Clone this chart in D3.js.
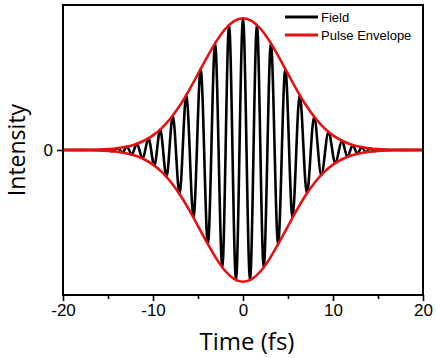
<!DOCTYPE html>
<html>
<head>
<meta charset="utf-8">
<script src="https://cdn.jsdelivr.net/npm/d3@7"></script>
<style>
  body { margin: 0; background: #fff; }
  svg { display: block; }
  .tick text { font-family: "Liberation Sans", Arial, sans-serif; font-size: 17px; fill: #000; }
  .tick line { stroke: #000; stroke-width: 1.6; }
</style>
</head>
<body>
<svg id="chart" width="437" height="358"></svg>
<script>
// Pulse envelope (time in fs, normalised amplitude)
const envTime = [-20, -18, -17, -16, -15, -14, -13, -12, -11, -10, -9, -8, -7, -6, -5, -4, -3, -2, -1, 0,
                 1, 2, 3, 4, 5, 6, 7, 8, 9, 10, 11, 12, 13, 14, 15, 16, 17, 18, 20];
const envValue = [0.0002, 0.0008, 0.0017, 0.0036, 0.007, 0.013, 0.024, 0.042, 0.070, 0.111, 0.168, 0.245, 0.340, 0.453, 0.577, 0.703, 0.820, 0.916, 0.978, 1.0,
                  0.978, 0.916, 0.820, 0.703, 0.577, 0.453, 0.340, 0.245, 0.168, 0.111, 0.070, 0.042, 0.024, 0.013, 0.007, 0.0036, 0.0017, 0.0008, 0.0002];

// Field: the turning points of the oscillation
const fieldTime = [-20, -15, -14.6, -13.9, -13.4, -12.9, -12.35, -11.8, -11.15, -10.5, -9.85, -9.2, -8.5, -7.8, -7.05, -6.3, -5.5, -4.7, -3.9, -3.1, -2.3, -1.55, -0.78,
                   0, 0.78, 1.55, 2.3, 3.1, 3.9, 4.7, 5.5, 6.3, 7.1, 7.9, 8.7, 9.5, 10.25, 11.0, 11.6, 12.2, 12.7, 13.2, 13.65, 14.1, 14.6, 15, 20];
const fieldValue = [0, 0, -0.009, 0.014, -0.019, 0.026, -0.035, 0.047, -0.065, 0.088, -0.118, 0.155, -0.204, 0.26, -0.335, 0.42, -0.51, 0.615, -0.715, 0.81, -0.89, 0.95, -0.987,
                    1.0, -0.987, 0.95, -0.89, 0.81, -0.715, 0.615, -0.51, 0.42, -0.33, 0.25, -0.19, 0.137, -0.099, 0.07, -0.052, 0.038, -0.029, 0.022, -0.017, 0.013, -0.008, 0, 0];

const xMajor = [-20, -10, 0, 10, 20];
const xMinor = [-15, -5, 5, 15];
const yTicks = [0];
const legendNames = ['Field', 'Pulse Envelope'];

const svg = d3.select('#chart');
const mLeft = 63, mRight = 423, mTop = 5, mBottom = 295;

const x = d3.scaleLinear().domain([-20, 20]).range([mLeft, mRight]);
const y = d3.scaleLinear().domain([-1.1, 1.1]).range([mBottom, mTop]);

// axes (plain hyphen for negatives, like the original)
svg.append('g')
    .attr('transform', `translate(0,${mBottom})`)
    .call(d3.axisBottom(x).tickValues(xMinor).tickSize(4).tickFormat(''))
    .call(g => g.select('.domain').remove());
svg.append('g')
    .attr('transform', `translate(0,${mBottom})`)
    .call(d3.axisBottom(x).tickValues(xMajor).tickSize(6).tickPadding(3).tickFormat(d => String(d)))
    .call(g => g.select('.domain').remove());
svg.append('g')
    .attr('transform', `translate(${mLeft},0)`)
    .call(d3.axisLeft(y).tickValues(yTicks).tickSize(6).tickPadding(4).tickFormat(d => String(d)))
    .call(g => g.select('.domain').remove());

// field
const fieldPts = fieldTime.map((t, i) => [t, fieldValue[i]]);
svg.append('path')
    .datum(fieldPts)
    .attr('fill', 'none')
    .attr('stroke', '#000')
    .attr('stroke-width', 2.6)
    .attr('stroke-linejoin', 'round')
    .attr('d', d3.line().x(d => x(d[0])).y(d => y(d[1])).curve(d3.curveMonotoneX));

// envelope (upper and lower)
const envLine = d3.line().x(d => x(d[0])).y(d => y(d[1])).curve(d3.curveMonotoneX);
[1, -1].forEach(s => {
    svg.append('path')
        .datum(envTime.map((t, i) => [t, s * envValue[i]]))
        .attr('fill', 'none')
        .attr('stroke', '#e8100f')
        .attr('stroke-width', 2.6)
        .attr('d', envLine);
});

// frame
svg.append('rect')
    .attr('x', mLeft).attr('y', mTop)
    .attr('width', mRight - mLeft).attr('height', mBottom - mTop)
    .attr('fill', 'none')
    .attr('stroke', '#000')
    .attr('stroke-width', 2);

// legend
const legend = svg.append('g').attr('font-family', '"Liberation Sans", Arial, sans-serif').attr('font-size', 13);
['#000', '#e8100f'].forEach((c, i) => {
    const ly = 17 + i * 18;
    legend.append('line')
        .attr('x1', 285).attr('x2', 318).attr('y1', ly).attr('y2', ly)
        .attr('stroke', c).attr('stroke-width', 3);
    legend.append('text')
        .attr('x', 321).attr('y', ly).attr('dy', '0.36em')
        .text(legendNames[i]);
});

// axis titles
svg.append('text')
    .attr('x', (mLeft + mRight) / 2 + 4).attr('y', 350)
    .attr('text-anchor', 'middle')
    .attr('font-family', '"Open Sans", sans-serif')
    .attr('font-size', 24)
    .text('Time (fs)');
svg.append('text')
    .attr('transform', `translate(25,${(mTop + mBottom) / 2}) rotate(-90)`)
    .attr('text-anchor', 'middle')
    .attr('font-family', '"Open Sans", sans-serif')
    .attr('font-size', 23)
    .text('Intensity');
</script>
</body>
</html>
